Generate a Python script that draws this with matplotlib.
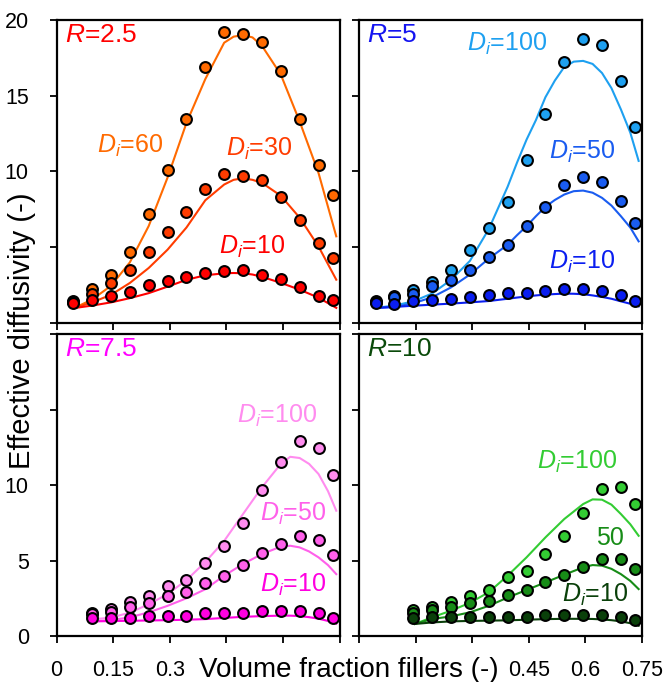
import matplotlib
matplotlib.use("Agg")
import matplotlib.pyplot as plt

plt.rcParams['font.family'] = ['Liberation Sans', 'DejaVu Sans']
plt.rcParams['mathtext.fontset'] = 'custom'
plt.rcParams['mathtext.rm'] = 'Liberation Sans'
plt.rcParams['mathtext.it'] = 'Liberation Sans:italic'

# ---- data: measured points (x = volume fraction) ----
x_pts = [0.044, 0.094, 0.144, 0.194, 0.244, 0.294, 0.344, 0.394,
         0.444, 0.494, 0.544, 0.594, 0.644, 0.694, 0.732]

# R = 2.5
r25_d60 = [1.45, 2.25, 3.19, 4.71, 7.2, 10.1, 13.44, 16.89, 19.23, 19.1, 18.57, 16.61, 13.44, 10.4, 8.44]
r25_d30 = [1.36, 1.94, 2.63, 3.5, 4.71, 6.0, 7.33, 8.85, 9.85, 9.72, 9.42, 8.3, 6.8, 5.26, 4.3]
r25_d10 = [1.34, 1.49, 1.8, 2.06, 2.49, 2.75, 3.04, 3.3, 3.43, 3.47, 3.17, 2.92, 2.38, 1.8, 1.54]
r25_xc = [0.048, 0.094, 0.144, 0.194, 0.244, 0.294, 0.344, 0.394, 0.444,
          0.469, 0.494, 0.519, 0.544, 0.594, 0.644, 0.694, 0.741]
r25_c60 = [1.0, 1.55, 2.45, 4.0, 6.4, 9.6, 13.2, 16.1, 18.5, 18.9, 19.0, 18.85, 18.3, 16.4, 13.3, 9.9, 5.72]
r25_c30 = [1.0, 1.36, 1.86, 2.64, 3.63, 4.84, 6.3, 8.1, 9.14, 9.45, 9.55, 9.45, 9.25, 8.4, 6.95, 5.05, 2.86]
r25_c10 = [0.99, 1.15, 1.36, 1.64, 1.97, 2.4, 2.85, 3.15, 3.28, 3.3, 3.28, 3.2, 3.05, 2.65, 2.2, 1.67, 1.0]

# R = 5
r5_d100 = [1.47, 1.78, 2.16, 2.73, 3.52, 4.8, 6.28, 7.97, 10.73, 13.77, 17.25, 18.77, 18.33, 16.0, 12.95]
r5_d50 = [1.4, 1.7, 1.94, 2.42, 2.86, 3.52, 4.34, 5.17, 6.39, 7.67, 9.1, 9.63, 9.32, 8.08, 6.61]
r5_d10 = [1.32, 1.26, 1.43, 1.54, 1.59, 1.72, 1.85, 1.98, 1.98, 2.13, 2.27, 2.27, 2.13, 1.82, 1.43]
r5_xc = [0.045, 0.094, 0.144, 0.194, 0.244, 0.294, 0.344, 0.394, 0.419, 0.444, 0.469,
         0.494, 0.519, 0.544, 0.569, 0.594, 0.619, 0.644, 0.669, 0.694, 0.719, 0.741]
r5_c100 = [1.0, 1.15, 1.43, 1.95, 2.85, 4.1, 6.2, 9.0, 10.6, 12.1, 13.4,
           14.9, 16.0, 16.9, 17.25, 17.3, 17.1, 16.5, 15.5, 14.1, 12.56, 10.7]
r5_c50 = [1.0, 1.06, 1.3, 1.7, 2.35, 3.2, 4.25, 5.17, 5.8, 6.39, 7.05,
          7.67, 8.12, 8.48, 8.7, 8.74, 8.6, 8.26, 7.75, 7.05, 6.3, 5.39]
r5_c10 = [0.99, 1.06, 1.14, 1.21, 1.28, 1.36, 1.45, 1.6, 1.68, 1.75, 1.82,
          1.87, 1.91, 1.94, 1.93, 1.9, 1.82, 1.72, 1.6, 1.43, 1.27, 1.1]

# R = 7.5
r75_x = [0.094, 0.144, 0.194, 0.244, 0.294, 0.344, 0.394,
         0.444, 0.494, 0.544, 0.594, 0.644, 0.694, 0.732]
r75_d100 = [1.55, 1.78, 2.25, 2.65, 3.3, 3.72, 4.83, 5.96, 7.46, 9.69, 11.5, 12.89, 12.45, 10.66]
r75_d50 = [1.45, 1.6, 1.95, 2.22, 2.62, 2.9, 3.49, 3.97, 4.7, 5.5, 6.09, 6.64, 6.36, 5.38]
r75_d10 = [1.2, 1.2, 1.21, 1.34, 1.35, 1.35, 1.5, 1.5, 1.5, 1.63, 1.63, 1.63, 1.5, 1.19]
r75_xc = [0.094, 0.144, 0.194, 0.244, 0.294, 0.344, 0.394, 0.444,
          0.494, 0.544, 0.594, 0.619, 0.644, 0.669, 0.694, 0.719, 0.741]
r75_c100 = [1.1, 1.22, 1.55, 2.1, 2.78, 3.7, 4.9, 6.3, 8.08, 9.85, 11.4, 11.87, 11.79, 11.4, 10.73, 9.6, 8.3]
r75_c50 = [0.97, 1.05, 1.24, 1.57, 2.0, 2.5, 3.1, 4.0, 4.77, 5.43, 5.92, 5.98, 5.87, 5.6, 5.21, 4.7, 4.1]
r75_c10 = [0.97, 0.99, 1.01, 1.03, 1.05, 1.08, 1.12, 1.2, 1.27, 1.32, 1.35, 1.35, 1.32, 1.25, 1.15, 1.0, 0.82]

# R = 10
r10_x = [0.144, 0.194, 0.244, 0.294, 0.344, 0.394, 0.444,
         0.494, 0.544, 0.594, 0.644, 0.694, 0.732]
r10_d100 = [1.72, 1.94, 2.23, 2.67, 3.05, 3.93, 4.28, 5.43, 6.64, 8.15, 9.74, 9.85, 8.74]
r10_d50 = [1.5, 1.72, 1.94, 2.16, 2.34, 2.74, 3.05, 3.55, 4.06, 4.59, 5.1, 5.1, 4.44]
r10_d10 = [1.19, 1.24, 1.24, 1.24, 1.24, 1.28, 1.24, 1.39, 1.39, 1.39, 1.39, 1.24, 1.08]
r10_xc = [0.148, 0.194, 0.244, 0.294, 0.344, 0.394, 0.444, 0.494,
          0.544, 0.594, 0.619, 0.644, 0.669, 0.694, 0.719, 0.741]
r10_c100 = [0.8, 1.24, 1.68, 2.2, 2.9, 4.0, 5.21, 6.53, 7.75, 8.74, 9.05, 9.03, 8.7, 8.08, 7.4, 6.64]
r10_c50 = [0.8, 1.13, 1.3, 1.57, 2.0, 2.55, 3.05, 3.55, 4.06, 4.55, 4.7, 4.66, 4.45, 4.1, 3.65, 3.11]
r10_c10 = [0.8, 0.9, 0.97, 1.0, 1.02, 1.04, 1.08, 1.12, 1.14, 1.14, 1.13, 1.1, 1.05, 0.97, 0.85, 0.68]

x_ticks = [0, 0.15, 0.3, 0.45, 0.6, 0.75]
y_ticks = [0, 5, 10, 15, 20]

panels = [
    dict(pos=[0.085, 0.5264, 0.425, 0.4443], R="2.5", rcol="#ff0000",
         xp=x_pts, xc=r25_xc,
         series=[(r25_d60, r25_c60, "#ff6a00"), (r25_d30, r25_c30, "#ff3c00"), (r25_d10, r25_c10, "#ff0000")],
         labels=[(0.108, 11.7, "$D_i$=60", "#ff6a00"), (0.45, 11.5, "$D_i$=30", "#ff3c00"),
                 (0.43, 5.0, "$D_i$=10", "#ff0000")],
         yl=['', '', '10', '15', '20'], xl=['']*6),
    dict(pos=[0.539, 0.5264, 0.425, 0.4443], R="5", rcol="#1414f0",
         xp=x_pts, xc=r5_xc,
         series=[(r5_d100, r5_c100, "#1ea0f0"), (r5_d50, r5_c50, "#1a5cf0"), (r5_d10, r5_c10, "#0a1ef0")],
         labels=[(0.285, 18.4, "$D_i$=100", "#1ea0f0"), (0.503, 11.3, "$D_i$=50", "#1a5cf0"),
                 (0.503, 4.0, "$D_i$=10", "#0a1ef0")],
         yl=['']*5, xl=['']*6),
    dict(pos=[0.085, 0.0674, 0.425, 0.4428], R="7.5", rcol="#ff00ff",
         xp=r75_x, xc=r75_xc,
         series=[(r75_d100, r75_c100, "#ff8cef"), (r75_d50, r75_c50, "#ff60ea"), (r75_d10, r75_c10, "#ff00e0")],
         labels=[(0.477, 14.57, "$D_i$=100", "#ff8cef"), (0.539, 8.08, "$D_i$=50", "#ff60ea"),
                 (0.539, 3.38, "$D_i$=10", "#ff00e0")],
         yl=['0', '5', '10', '', ''], xl=['0', '0.15', '0.3', '', '', '']),
    dict(pos=[0.539, 0.0674, 0.425, 0.4428], R="10", rcol="#0a4a0a",
         xp=r10_x, xc=r10_xc,
         series=[(r10_d100, r10_c100, "#33cc33"), (r10_d50, r10_c50, "#178c17"), (r10_d10, r10_c10, "#0a400a")],
         labels=[(0.471, 11.5, "$D_i$=100", "#33cc33"), (0.628, 6.5, "50", "#178c17"),
                 (0.537, 2.7, "$D_i$=10", "#0a400a")],
         yl=['']*5, xl=['', '', '', '0.45', '0.6', '0.75']),
]

fig = plt.figure(figsize=(6.66, 6.82), dpi=100)

for p in panels:
    ax = fig.add_axes(p["pos"])
    for pts, curve, col in p["series"]:
        ax.plot(p["xc"], curve, color=col, lw=1.5, zorder=2)
    for pts, curve, col in p["series"]:
        ax.plot(p["xp"], pts, 'o', ms=7.8, mfc=col, mec='black', mew=1.5, zorder=3)
    for x, y, s, col in p["labels"]:
        ax.text(x, y, s, color=col, fontsize=18, va='center', ha='left')
    ax.text(0.022, 19.0, "$R$=" + p["R"], color=p["rcol"], fontsize=19, va='center', ha='left')
    ax.set_xlim(0, 0.75)
    ax.set_ylim(0, 20)
    ax.set_xticks(x_ticks)
    ax.set_xticklabels(p["xl"])
    ax.set_yticks(y_ticks)
    ax.set_yticklabels(p["yl"])
    ax.tick_params(direction='out', length=5, width=1.3, labelsize=15.5)
    ax.tick_params(axis='x', pad=12)
    ax.tick_params(axis='y', pad=15)
    for sp in ax.spines.values():
        sp.set_linewidth(1.6)

fig.text(0.523, 0.017, "Volume fraction fillers (-)", fontsize=20, ha='center', va='center')
fig.text(0.033, 0.515, "Effective diffusivity (-)", fontsize=21, ha='center', va='center', rotation=90)

fig.savefig("out.png", dpi=100)
